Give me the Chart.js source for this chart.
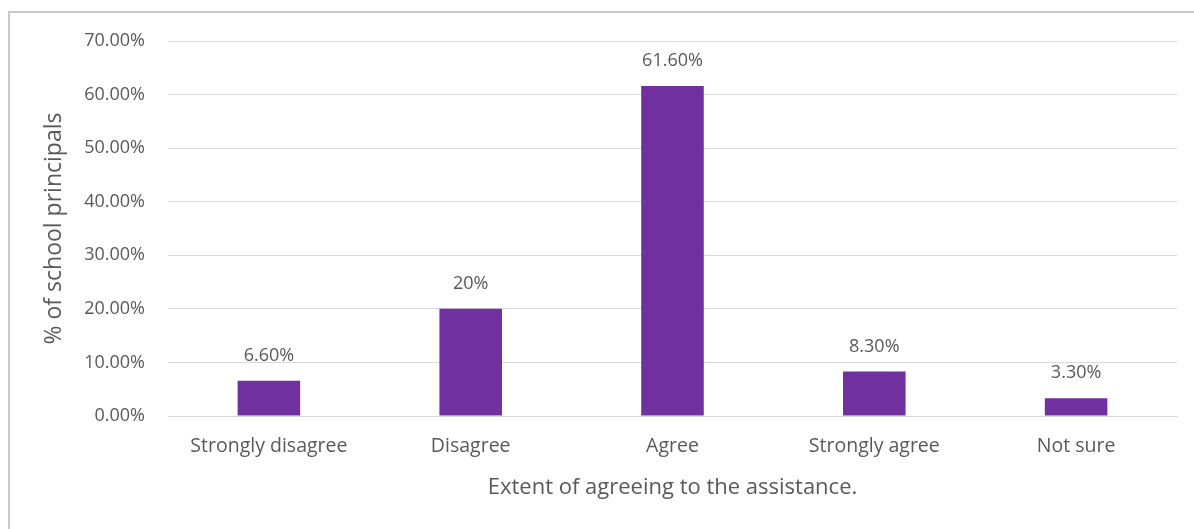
<!DOCTYPE html>
<html>
<head>
<meta charset="utf-8">
<script src="https://cdn.jsdelivr.net/npm/chart.js@4/dist/chart.umd.min.js"></script>
<style>
  html, body { margin: 0; padding: 0; background: #ffffff; }
  #wrap { position: relative; width: 1194px; height: 529px; overflow: hidden; }
  #frame { position: absolute; left: 8px; top: 11px; width: 1200px; height: 540px;
           border-left: 2px solid #c8c8c8; border-top: 2px solid #c8c8c8; box-sizing: border-box; }
  canvas { position: absolute; left: 0; top: 0; }
</style>
</head>
<body>
<div id="wrap">
  <div id="frame"></div>
  <canvas id="chart" width="1194" height="529"></canvas>
</div>
<script>
// Survey responses
const categories = ['Strongly disagree', 'Disagree', 'Agree', 'Strongly agree', 'Not sure'];
const percentages = [6.6, 20, 61.6, 8.3, 3.3];
const valueLabels = ['6.60%', '20%', '61.60%', '8.30%', '3.30%'];
const yTicks = [0, 10, 20, 30, 40, 50, 60, 70];

const textColor = '#595959';
const fontFamily = '"Open Sans", Lato, sans-serif';

// Writes each value label just above its bar
const barValueLabels = {
  id: 'barValueLabels',
  afterDatasetsDraw(chart) {
    const ctx = chart.ctx;
    const meta = chart.getDatasetMeta(0);
    ctx.save();
    ctx.fillStyle = textColor;
    ctx.font = '18px ' + fontFamily;
    ctx.textAlign = 'center';
    ctx.textBaseline = 'middle';
    meta.data.forEach((bar, i) => {
      ctx.fillText(valueLabels[i], bar.x, bar.y - 25);
    });
    ctx.restore();
  }
};

new Chart(document.getElementById('chart'), {
  type: 'bar',
  data: {
    labels: categories,
    datasets: [{
      data: percentages,
      backgroundColor: '#7030A0',
      borderWidth: 0,
      barPercentage: 0.62,
      categoryPercentage: 0.5
    }]
  },
  options: {
    responsive: false,
    animation: false,
    devicePixelRatio: 1,
    layout: { padding: { top: 41, right: 17, bottom: 0, left: 0 } },
    plugins: {
      legend: { display: false },
      tooltip: { enabled: false }
    },
    scales: {
      x: {
        grid: { display: false, drawTicks: false },
        border: { display: true, color: '#d9d9d9', width: 1 },
        ticks: { color: textColor, font: { family: fontFamily, size: 19.5 }, padding: 19, maxRotation: 0 },
        title: {
          display: true,
          text: 'Extent of agreeing to the assistance.',
          color: textColor,
          font: { family: fontFamily, size: 22 },
          padding: { top: 0, bottom: 28 }
        },
        afterFit(scale) { scale.height = 113; }
      },
      y: {
        min: 0,
        max: 70,
        afterBuildTicks(scale) { scale.ticks = yTicks.map(v => ({ value: v })); },
        grid: { color: '#d9d9d9', lineWidth: 1, drawTicks: false },
        border: { display: false },
        ticks: {
          color: textColor,
          font: { family: fontFamily, size: 18 },
          padding: 23,
          callback: v => v.toFixed(2) + '%'
        },
        title: {
          display: true,
          text: '% of school principals',
          color: textColor,
          font: { family: fontFamily, size: 23 },
          padding: { top: 41, bottom: 0 }
        },
        afterFit(scale) { scale.width = 168; }
      }
    }
  },
  plugins: [barValueLabels]
});
</script>
</body>
</html>
